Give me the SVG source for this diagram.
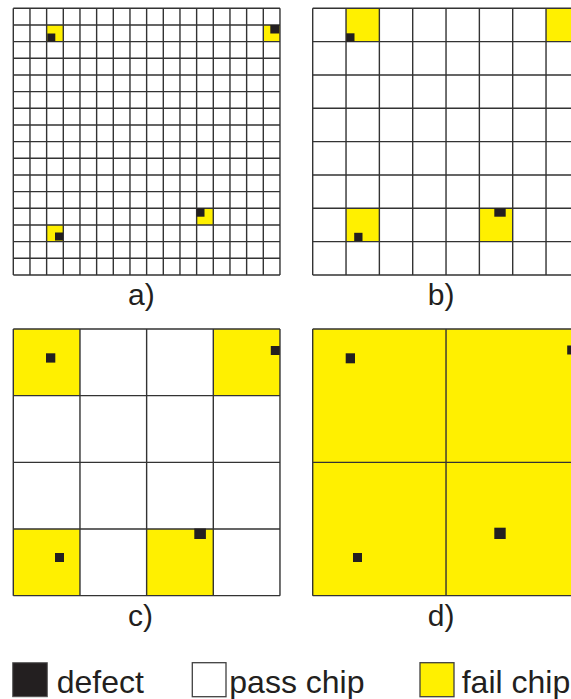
<svg xmlns="http://www.w3.org/2000/svg" width="571" height="699" viewBox="0 0 571 699">
<style>
.grid{fill:none;stroke:#333333;stroke-width:1.4}
.fail{fill:#FFF000}
.pass{fill:#FFFFFF}
.def{fill:#231F20}
.lbl{font-family:"Liberation Sans",Arial,sans-serif;font-size:30px;fill:#231F20}
.leg{font-family:"Liberation Sans",Arial,sans-serif;font-size:32px;fill:#231F20}
</style>
<rect x="0" y="0" width="571" height="699" fill="#FFFFFF"/>

<g id="panel-a" transform="translate(13.3 8.3)">
  <rect class="pass" x="0" y="0" width="266.67" height="266.67"/>
  <rect class="fail" x="33.33" y="16.67" width="16.67" height="16.67"/>
  <rect class="fail" x="250" y="16.67" width="16.67" height="16.67"/>
  <rect class="fail" x="33.33" y="216.67" width="16.67" height="16.67"/>
  <rect class="fail" x="183.33" y="200" width="16.67" height="16.67"/>
  <path class="grid" d="M0 0V266.67M16.67 0V266.67M33.33 0V266.67M50 0V266.67M66.67 0V266.67M83.33 0V266.67M100 0V266.67M116.67 0V266.67M133.33 0V266.67M150 0V266.67M166.67 0V266.67M183.33 0V266.67M200 0V266.67M216.67 0V266.67M233.33 0V266.67M250 0V266.67M266.67 0V266.67M0 0H266.67M0 16.67H266.67M0 33.33H266.67M0 50H266.67M0 66.67H266.67M0 83.33H266.67M0 100H266.67M0 116.67H266.67M0 133.33H266.67M0 150H266.67M0 166.67H266.67M0 183.33H266.67M0 200H266.67M0 216.67H266.67M0 233.33H266.67M0 250H266.67M0 266.67H266.67"/>
  <rect class="def" x="34" y="25.2" width="8" height="8"/>
  <rect class="def" x="257" y="16.7" width="9" height="8.5"/>
  <rect class="def" x="41.7" y="224.2" width="8" height="8"/>
  <rect class="def" x="183.2" y="200" width="8" height="8.4"/>
  <text class="lbl" x="114.7" y="297">a)</text>
</g>

<g id="panel-b" transform="translate(312.7 8.3)">
  <rect class="pass" x="0" y="0" width="266.67" height="266.67"/>
  <rect class="fail" x="33.33" y="0" width="33.33" height="33.33"/>
  <rect class="fail" x="233.33" y="0" width="33.33" height="33.33"/>
  <rect class="fail" x="33.33" y="200" width="33.33" height="33.33"/>
  <rect class="fail" x="166.67" y="200" width="33.33" height="33.33"/>
  <path class="grid" d="M0 0V266.67M33.33 0V266.67M66.67 0V266.67M100 0V266.67M133.33 0V266.67M166.67 0V266.67M200 0V266.67M233.33 0V266.67M266.67 0V266.67M0 0H266.67M0 33.33H266.67M0 66.67H266.67M0 100H266.67M0 133.33H266.67M0 166.67H266.67M0 200H266.67M0 233.33H266.67M0 266.67H266.67"/>
  <rect class="def" x="33.5" y="25" width="8.3" height="8.3"/>
  <rect class="def" x="41.5" y="224.5" width="8.3" height="8.3"/>
  <rect class="def" x="181.6" y="200" width="11.4" height="8.4"/>
  <text class="lbl" x="115" y="297">b)</text>
</g>

<g id="panel-c" transform="translate(13.3 329)">
  <rect class="pass" x="0" y="0" width="266.67" height="266.67"/>
  <rect class="fail" x="0" y="0" width="66.67" height="66.67"/>
  <rect class="fail" x="200" y="0" width="66.67" height="66.67"/>
  <rect class="fail" x="0" y="200" width="66.67" height="66.67"/>
  <rect class="fail" x="133.33" y="200" width="66.67" height="66.67"/>
  <path class="grid" d="M0 0V266.67M66.67 0V266.67M133.33 0V266.67M200 0V266.67M266.67 0V266.67M0 0H266.67M0 66.67H266.67M0 133.33H266.67M0 200H266.67M0 266.67H266.67"/>
  <rect class="def" x="32.7" y="24.3" width="9.3" height="9.3"/>
  <rect class="def" x="257.5" y="17" width="9" height="9"/>
  <rect class="def" x="41.7" y="224" width="9" height="9"/>
  <rect class="def" x="181" y="199.5" width="11.6" height="10.5"/>
  <text class="lbl" x="114.7" y="297">c)</text>
</g>

<g id="panel-d" transform="translate(312.7 329)">
  <rect class="fail" x="0" y="0" width="266.67" height="266.67"/>
  <path class="grid" d="M0 0V266.67M133.33 0V266.67M266.67 0V266.67M0 0H266.67M0 133.33H266.67M0 266.67H266.67"/>
  <rect class="def" x="33" y="24.3" width="9.3" height="10"/>
  <rect class="def" x="254.5" y="16.5" width="9" height="9"/>
  <rect class="def" x="40.3" y="224" width="9" height="9"/>
  <rect class="def" x="181.6" y="198.7" width="11.4" height="11.3"/>
  <text class="lbl" x="115" y="297">d)</text>
</g>

<g id="legend-defect">
  <rect class="def" x="12.7" y="662.7" width="34.6" height="34" stroke="#555" stroke-width="1"/>
  <text class="leg" x="56.7" y="692.5">defect</text>
</g>
<g id="legend-pass">
  <rect class="pass" x="192.3" y="662.7" width="33.7" height="34" stroke="#404040" stroke-width="1.3"/>
  <text class="leg" x="229.3" y="692.5">pass chip</text>
</g>
<g id="legend-fail">
  <rect class="fail" x="420" y="662.7" width="34" height="34" stroke="#404040" stroke-width="1.3"/>
  <text class="leg" x="461.7" y="692.5">fail chip</text>
</g>
<g id="connectors"/>
</svg>
